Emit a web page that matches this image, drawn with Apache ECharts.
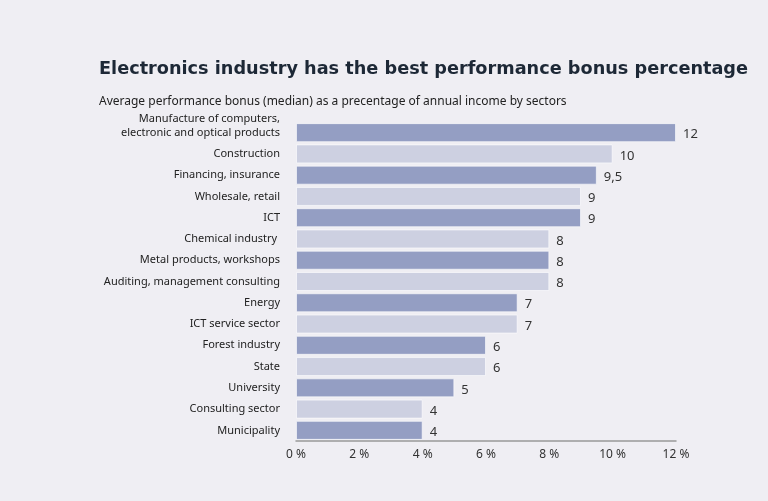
<!DOCTYPE html>
<html>
<head>
<meta charset="utf-8">
<script src="https://cdn.jsdelivr.net/npm/echarts@6/dist/echarts.min.js"></script>
<style>
  html, body { margin: 0; padding: 0; background: #efeef3; }
  #chart { width: 768px; height: 501px; }
</style>
</head>
<body>
<div id="chart"></div>
<script>
// sectors, top to bottom as drawn
const sectors = [
  'Manufacture of computers,\nelectronic and optical products',
  'Construction',
  'Financing, insurance',
  'Wholesale, retail',
  'ICT',
  'Chemical industry ',
  'Metal products, workshops',
  'Auditing, management consulting',
  'Energy',
  'ICT service sector',
  'Forest industry',
  'State',
  'University',
  'Consulting sector',
  'Municipality'
]
const bonusPct = [12, 10, 9.5, 9, 9, 8, 8, 8, 7, 7, 6, 6, 5, 4, 4]
const tickLabels = ['0 %', '2 %', '4 %', '6 %', '8 %', '10 %', '12 %']

const darkBar = '#949ec3'
const lightBar = '#cdd0e1'

const chart = echarts.init(document.getElementById('chart'))

chart.setOption({
  backgroundColor: '#efeef3',
  animation: false,
  title: [
    {
      text: 'Electronics industry has the best performance bonus percentage',
      left: 94, top: 55,
      textStyle: { fontFamily: 'DejaVu Sans', fontWeight: 'bold', fontSize: 17.7, color: '#1d2836' }
    },
    {
      text: 'Average performance bonus (median) as a precentage of annual income by sectors',
      left: 94, top: 91,
      textStyle: { fontFamily: 'Noto Sans', fontWeight: 'normal', fontSize: 12, color: '#222' }
    }
  ],
  grid: { left: 296, right: 92, top: 122, bottom: 60, containLabel: false },
  xAxis: {
    type: 'value',
    min: 0, max: 12, interval: 2,
    axisLine: { show: true, lineStyle: { color: '#999', width: 1.5 } },
    axisTick: { show: false },
    splitLine: { show: false },
    axisLabel: {
      margin: 8,
      fontFamily: 'Noto Sans', fontSize: 12, color: '#333',
      formatter: v => tickLabels[v / 2]
    }
  },
  yAxis: {
    type: 'category',
    inverse: true,
    data: sectors,
    axisLine: { show: false },
    axisTick: { show: false },
    axisLabel: {
      interval: 0,
      margin: 16,
      fontFamily: 'Noto Sans', fontSize: 11, color: '#222', lineHeight: 14, align: 'right',
      // two-line label: pad with an empty line so its second line sits on the bar
      formatter: s => s.includes('\n') ? s + '\n\u00a0' : s
    }
  },
  series: [{
    type: 'bar',
    barWidth: 19,
    data: bonusPct.map((v, i) => ({
      value: v,
      itemStyle: { color: i % 2 === 0 ? darkBar : lightBar }
    })),
    itemStyle: { borderColor: 'rgba(255,255,255,0.6)', borderWidth: 1 },
    label: {
      show: true, position: 'right', distance: 7, offset: [0, 2],
      fontFamily: 'Noto Sans', fontSize: 13, color: '#333',
      formatter: p => String(p.value).replace('.', ',')
    }
  }]
})
</script>
</body>
</html>
